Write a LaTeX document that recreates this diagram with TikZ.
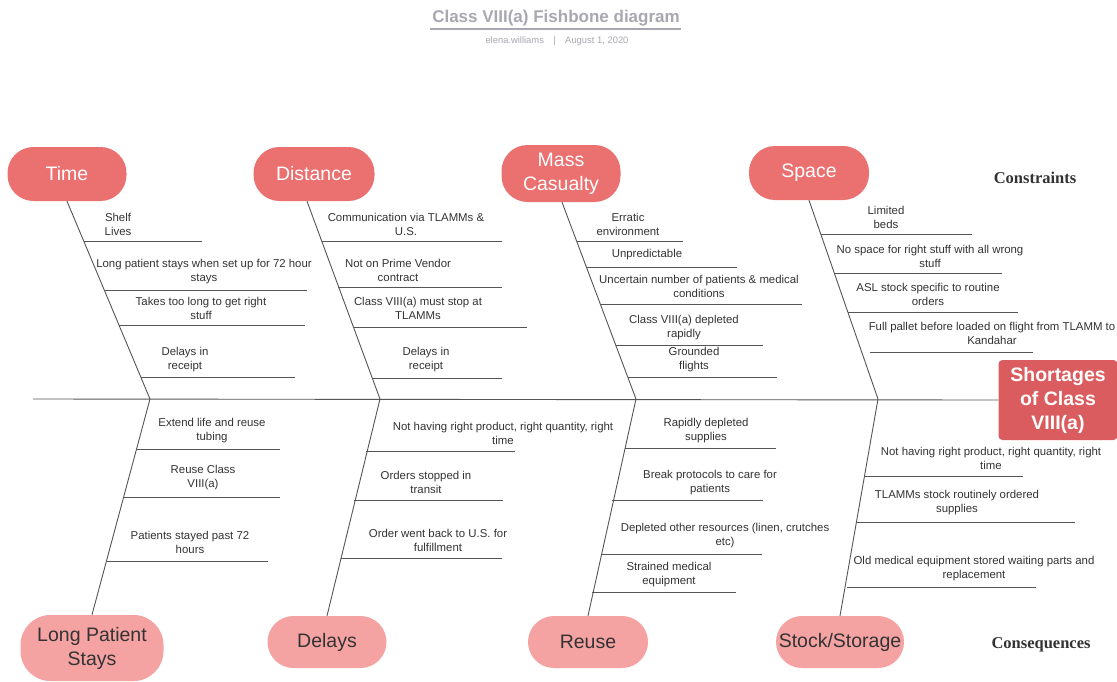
\documentclass[tikz,border=0pt]{standalone}
\usepackage{fontspec}
\setmainfont{Liberation Sans}
\newfontfamily\serifbold{Liberation Serif}
\usetikzlibrary{calc}
\definecolor{topfill}{HTML}{EB7070}
\definecolor{botfill}{HTML}{F4A2A2}
\definecolor{effill}{HTML}{DB5C5F}
\definecolor{ribtext}{HTML}{333333}
\definecolor{bonecol}{HTML}{555555}
\definecolor{titlecol}{HTML}{A8A8B0}
\tikzset{
  cause/.style={rectangle, rounded corners=26pt, fill=topfill, text=white, align=center,
    font=\fontsize{19.5}{24}\selectfont, inner sep=0pt},
  effect/.style={rectangle, rounded corners=26pt, fill=botfill, text=ribtext, align=center,
    font=\fontsize{19.5}{24}\selectfont, inner sep=0pt},
  head/.style={rectangle, rounded corners=4pt, fill=effill, text=white, align=center,
    font=\fontsize{19.5}{24}\bfseries\selectfont, inner sep=0pt},
  bone/.style={draw=bonecol, line width=0.9pt},
  rib/.style={draw=bonecol, line width=0.8pt},
  ribtxt/.style={text=ribtext, align=center, font=\fontsize{11.4}{14}\selectfont, inner sep=0pt},
  sidelabel/.style={text=ribtext, font=\fontsize{16.5}{18}\serifbold\bfseries\selectfont},
}
\begin{document}
\begin{tikzpicture}[x=1pt,y=-1pt]
\useasboundingbox (0,0) rectangle (1117,681);
\fill[white] (0,0) rectangle (1117,681);

% title
\node[text=titlecol, font=\fontsize{17}{20}\bfseries\selectfont] (title) at (556,18) {Class VIII(a) Fishbone diagram};
\draw[titlecol, line width=1.2pt] (430,29) -- (681,29);
\node[text=titlecol, font=\fontsize{9.4}{11}\selectfont] (sub) at (557,41) {elena.williams\quad|\quad August 1, 2020};

% cause nodes
\node[cause, minimum width=119pt, minimum height=54pt] (time) at (67,174) {Time};
\node[cause, minimum width=121pt, minimum height=54pt] (dist) at (314,174) {Distance};
\node[cause, minimum width=119pt, minimum height=57pt] (mass) at (561,173.5) {Mass\\Casualty};
\node[cause, minimum width=120pt, minimum height=54pt] (space) at (809,173) {Space};

% effect nodes
\node[effect, minimum width=143pt, minimum height=66pt, rounded corners=30pt] (lps) at (92,648) {Long Patient\\Stays};
\node[effect, minimum width=119pt, minimum height=52pt] (delays) at (327,642) {Delays};
\node[effect, minimum width=120pt, minimum height=52pt] (reuse) at (588,642) {Reuse};
\node[effect, minimum width=128pt, minimum height=52pt] (stock) at (840,642) {Stock/Storage};

% head
\node[head, minimum width=119pt, minimum height=80pt] (short) at (1058,400) {Shortages\\of Class\\VIII(a)};

% side labels
\node[sidelabel] (constr) at (1035,178) {Constraints};
\node[sidelabel] (conseq) at (1041,645) {Consequences};

% spine
\coordinate (tail) at (33,399);
\coordinate (j1) at (150,399);
\coordinate (j2) at (380,399);
\coordinate (j3) at (636,399);
\coordinate (j4) at (878,399);
\draw[bone] (tail) -- (short.west);

% bones
\draw[bone] (time.south) -- (j1);
\draw[bone] ([xshift=-7pt]dist.south) -- (j2);
\draw[bone] ([xshift=1pt]mass.south) -- (j3);
\draw[bone] (space.south) -- (j4);
\draw[bone] (lps.north) -- (j1);
\draw[bone] (delays.north) -- (j2);
\draw[bone] (reuse.north) -- (j3);
\draw[bone] (stock.north) -- (j4);

% ---- Time ribs
\node[ribtxt] (t1) at (118,224) {Shelf\\Lives};
\draw[rib] (84,241) -- (202,241);
\node[ribtxt] (t2) at (204,272) {Long patient stays when set up for 72 hour\\stays};
\draw[rib] (104,290) -- (307,290);
\node[ribtxt] (t3) at (201,308) {Takes too long to get right\\stuff};
\draw[rib] (119,325) -- (305,325);
\node[ribtxt] (t4) at (185,360) {Delays in\\receipt};
\draw[rib] (141,377) -- (295,377);

% ---- Distance ribs
\node[ribtxt] (d1) at (406,224) {Communication via TLAMMs \&\\U.S.};
\draw[rib] (322,241) -- (502,241);
\node[ribtxt] (d2) at (398,270) {Not on Prime Vendor\\contract};
\draw[rib] (338,287) -- (502,287);
\node[ribtxt] (d3) at (418,308) {Class VIII(a) must stop at\\TLAMMs};
\draw[rib] (353,327) -- (527,327);
\node[ribtxt] (d4) at (426,360) {Delays in\\receipt};
\draw[rib] (372,378) -- (502,378);

% ---- Mass casualty ribs
\node[ribtxt] (m1) at (628,224) {Erratic\\environment};
\draw[rib] (577,241) -- (683,241);
\node[ribtxt] (m2) at (647,255) {Unpredictable};
\draw[rib] (587,267) -- (737,267);
\node[ribtxt] (m3) at (699,286) {Uncertain number of patients \& medical\\conditions};
\draw[rib] (601,304) -- (802,304);
\node[ribtxt] (m4) at (684,328) {Class VIII(a) depleted\\rapidly};
\draw[rib] (616,345) -- (763,345);
\node[ribtxt] (m5) at (694,360) {Grounded\\flights};
\draw[rib] (628,377) -- (777,377);

% ---- Space ribs
\node[ribtxt] (s1) at (886,217) {Limited\\beds};
\draw[rib] (821,234) -- (972,234);
\node[ribtxt] (s2) at (930,256) {No space for right stuff with all wrong\\stuff};
\draw[rib] (834,273) -- (1002,273);
\node[ribtxt] (s3) at (928,294) {ASL stock specific to routine\\orders};
\draw[rib] (848,312) -- (1018,312);
\node[ribtxt] (s4) at (992,333) {Full pallet before loaded on flight from TLAMM to\\Kandahar};
\draw[rib] (870,352) -- (1033,352);

% ---- Long patient stays ribs
\node[ribtxt] (l1) at (212,431) {Extend life and reuse\\tubing};
\draw[rib] (136,449) -- (280,449);
\node[ribtxt] (l2) at (203,478) {Reuse Class\\VIII(a)};
\draw[rib] (124,497) -- (280,497);
\node[ribtxt] (l3) at (190,542) {Patients stayed past 72\\hours};
\draw[rib] (107,561) -- (268,561);

% ---- Delays ribs
\node[ribtxt] (e1) at (503,433) {Not having right product, right quantity, right\\time};
\draw[rib] (366,451) -- (515,451);
\node[ribtxt] (e2) at (426,482) {Orders stopped in\\transit};
\draw[rib] (354,500) -- (503,500);
\node[ribtxt] (e3) at (438,540) {Order went back to U.S. for\\fulfillment};
\draw[rib] (341,558) -- (502,558);

% ---- Reuse ribs
\node[ribtxt] (r1) at (706,431) {Rapidly depleted\\supplies};
\draw[rib] (625,448) -- (776,448);
\node[ribtxt] (r2) at (710,483) {Break protocols to care for\\patients};
\draw[rib] (612,500) -- (763,500);
\node[ribtxt] (r3) at (725,536) {Depleted other resources (linen, crutches\\etc)};
\draw[rib] (601,554) -- (762,554);
\node[ribtxt] (r4) at (669,575) {Strained medical\\equipment};
\draw[rib] (592,592) -- (736,592);

% ---- Stock ribs
\node[ribtxt] (k1) at (991,458) {Not having right product, right quantity, right\\time};
\draw[rib] (865,476) -- (1023,476);
\node[ribtxt] (k2) at (957,503) {TLAMMs stock routinely ordered\\supplies};
\draw[rib] (857,522) -- (1075,522);
\node[ribtxt] (k3) at (974,569) {Old medical equipment stored waiting parts and\\replacement};
\draw[rib] (847,587) -- (1036,587);
\end{tikzpicture}
\end{document}
